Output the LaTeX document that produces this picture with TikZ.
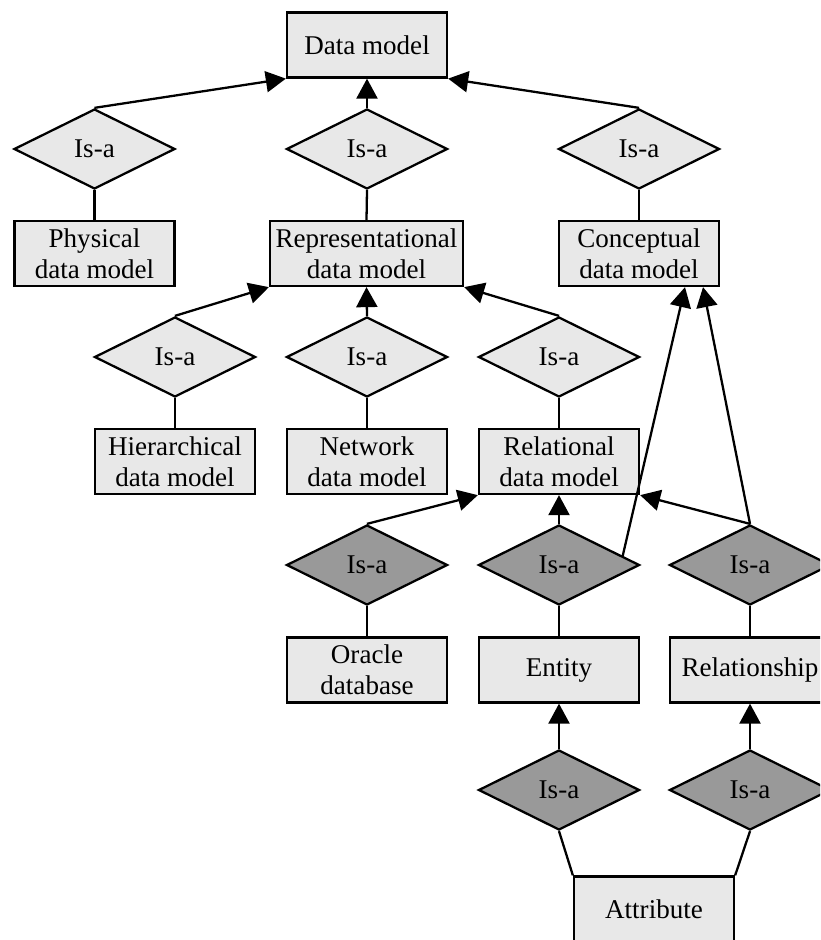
\documentclass[tikz,border=0pt]{standalone}
\usepackage{fontspec}
\setmainfont{Liberation Serif}
\usepackage{xcolor}
\usepackage{tikz}
\usetikzlibrary{arrows.meta}
\usetikzlibrary{calc}
\usetikzlibrary{shapes.geometric}
\definecolor{lightfill}{HTML}{E8E8E8}
\definecolor{darkfill}{HTML}{999999}
\tikzstyle{arrow} = [line width=1.3pt,-{Triangle[length=0.4cm,width=0.42cm]}]
\tikzstyle{link} = [line width=1.3pt]
\tikzstyle{ent} = [draw, line width=1.3pt, fill=lightfill, minimum width=3.2cm, minimum height=1.3cm, align=center, inner sep=2pt]
\tikzstyle{isa} = [draw, line width=1.3pt, diamond, fill=lightfill, minimum width=3.22cm, minimum height=1.6cm, inner sep=0pt]
\tikzstyle{isadark} = [isa, fill=darkfill]

\begin{document}
\begin{tikzpicture}[font=\fontsize{15.4}{17.6}\selectfont]
  \clip (0,0) rectangle (16.4,-18.8);
  % top
  \node[ent] (dm) at (7.34,-0.90) {Data model};
  \node[isa] (isaPhys) at (1.89,-2.98) {Is-a};
  \node[isa] (isaRep) at (7.34,-2.98) {Is-a};
  \node[isa] (isaConc) at (12.78,-2.98) {Is-a};
  \node[ent] (phys) at (1.89,-5.07) {Physical\\data model};
  \node[ent, minimum width=3.86cm] (rep) at (7.33,-5.07) {Representational\\data model};
  \node[ent] (conc) at (12.78,-5.07) {Conceptual\\data model};
  % representational kinds
  \node[isa] (isaHier) at (3.50,-7.14) {Is-a};
  \node[isa] (isaNet) at (7.34,-7.14) {Is-a};
  \node[isa] (isaRel) at (11.18,-7.14) {Is-a};
  \node[ent] (hier) at (3.50,-9.23) {Hierarchical\\data model};
  \node[ent] (net) at (7.34,-9.23) {Network\\data model};
  \node[ent] (rel) at (11.18,-9.23) {Relational\\data model};
  % relational
  \node[isadark] (isaOra) at (7.34,-11.30) {Is-a};
  \node[isadark] (isaEnt) at (11.18,-11.30) {Is-a};
  \node[isadark] (isaRship) at (15.00,-11.30) {Is-a};
  \node[ent] (ora) at (7.34,-13.40) {Oracle\\database};
  \node[ent] (entity) at (11.18,-13.40) {Entity};
  \node[ent] (rship) at (15.00,-13.40) {Relationship};
  \node[isadark] (isaAttrE) at (11.18,-15.80) {Is-a};
  \node[isadark] (isaAttrR) at (15.00,-15.80) {Is-a};
  \node[ent] (attr) at (13.08,-18.18) {Attribute};

  \draw[arrow] (isaPhys.north) -- (dm.south west);
  \draw[arrow] (isaRep.north) -- (dm.south);
  \draw[arrow] (isaConc.north) -- (dm.south east);
  \draw[link] (isaPhys.south) -- (phys.north);
  \draw[link] (isaRep.south) -- (rep.north);
  \draw[link] (isaConc.south) -- (conc.north);

  \draw[arrow] (isaHier.north) -- (rep.south west);
  \draw[arrow] (isaNet.north) -- (rep.south);
  \draw[arrow] (isaRel.north) -- (rep.south east);
  \draw[link] (isaHier.south) -- (hier.north);
  \draw[link] (isaNet.south) -- (net.north);
  \draw[link] (isaRel.south) -- (rel.north);

  \draw[arrow] (isaOra.north) -- (rel.south west);
  \draw[arrow] (isaEnt.north) -- (rel.south);
  \draw[arrow] (isaRship.north) -- (rel.south east);
  \draw[arrow] ($(isaEnt.north)!0.78!(isaEnt.east)$) -- ($(conc.south)+(0.92,0)$);
  \draw[arrow] (isaRship.north) -- ($(conc.south)+(1.28,0)$);
  \draw[link] (isaOra.south) -- (ora.north);
  \draw[link] (isaEnt.south) -- (entity.north);
  \draw[link] (isaRship.south) -- (rship.north);

  \draw[arrow] (isaAttrE.north) -- (entity.south);
  \draw[arrow] (isaAttrR.north) -- (rship.south);
  \draw[link] (isaAttrE.south) -- (attr.north west);
  \draw[link] (isaAttrR.south) -- (attr.north east);
\end{tikzpicture}
\end{document}
